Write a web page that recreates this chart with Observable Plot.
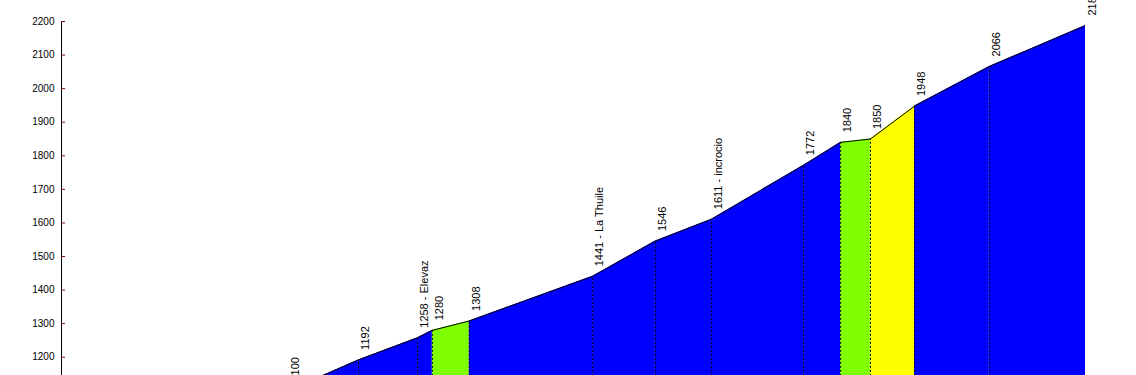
<!DOCTYPE html>
<html>
<head>
<meta charset="utf-8">
<script src="https://cdn.jsdelivr.net/npm/d3@7"></script>
<script src="https://cdn.jsdelivr.net/npm/@observablehq/plot@0.6"></script>
<style>
  html, body { margin: 0; padding: 0; background: #fff; }
  svg { display: block; }
</style>
</head>
<body>
<div id="chart"></div>
<script>
// distance (km) and elevation (m) of profile points
const dist = [0, 5.09, 6.67, 8.0, 8.33, 9.16, 11.93, 13.34, 14.6, 16.67, 17.5, 18.17, 19.16, 20.84, 23.0];
const elev = [1004, 1100, 1192, 1258, 1280, 1308, 1441, 1546, 1611, 1772, 1840, 1850, 1948, 2066, 2188];
const labels = ["", "1100", "1192", "1258 - Elevaz", "1280", "1308", "1441 - La Thuile", "1546", "1611 - incrocio", "1772", "1840", "1850", "1948", "2066", "2188"];
// colour of each segment (between point i and point i+1)
const segColors = ["#0000ff", "#0000ff", "#0000ff", "#0000ff", "#80ff00", "#0000ff", "#0000ff", "#0000ff", "#0000ff", "#0000ff", "#80ff00", "#ffff00", "#0000ff", "#0000ff"];
const yTicks = [1200, 1300, 1400, 1500, 1600, 1700, 1800, 1900, 2000, 2100, 2200];

const base = 1000;
const points = dist.map((d, i) => ({x: d, y: elev[i], label: labels[i]}));
const segMarks = segColors.map((c, i) =>
  Plot.areaY([points[i], points[i + 1]], {x: "x", y1: base, y2: "y", fill: c, clip: true})
);

const chart = Plot.plot({
  width: 1136,
  height: 375,
  marginLeft: 61,
  marginRight: 51,
  marginTop: 21,
  marginBottom: 0,
  x: {domain: [0, 23], axis: null},
  y: {domain: [1145.5, 2200], axis: null},
  style: {fontFamily: "Arial, 'Liberation Sans', sans-serif", background: "#fff"},
  marks: [
    ...segMarks,
    Plot.ruleX(points.slice(1), {x: "x", y1: base, y2: "y", stroke: "#000", strokeWidth: 1, strokeDasharray: "2,2", clip: true}),
    Plot.line(points, {x: "x", y: "y", stroke: "#000", strokeWidth: 1, clip: true}),
    Plot.text(points.slice(1), {x: "x", y: "y", text: "label", rotate: -90, textAnchor: "start", lineAnchor: "middle", dx: 7, dy: -10, fontSize: 11, fill: "#000"}),
    Plot.ruleX([0], {y1: 1145.5, y2: 2200, stroke: "#000", strokeWidth: 1}),
    Plot.ruleY(yTicks, {x1: 0, x2: 0.09, stroke: "#800000", strokeWidth: 1}),
    Plot.axisY({ticks: yTicks, tickSize: 0, tickPadding: 7, fontSize: 10, anchor: "left", label: null, tickFormat: d => String(d), color: "#000"})
  ]
});
document.getElementById("chart").appendChild(chart);
</script>
</body>
</html>
